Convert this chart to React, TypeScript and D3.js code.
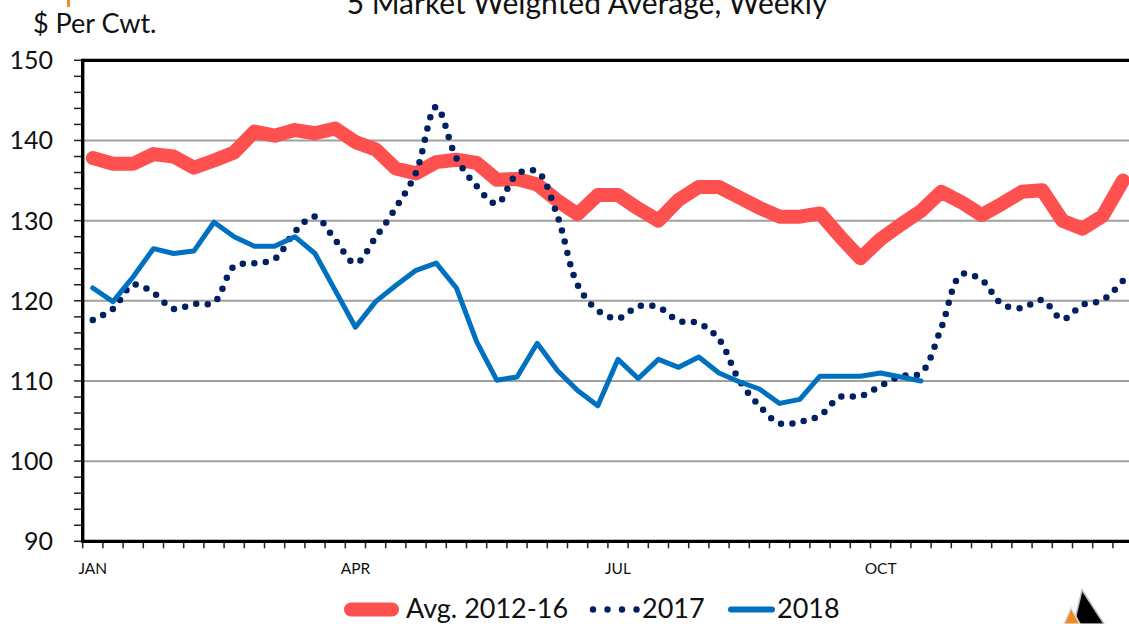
import React from "react";
import * as d3 from "d3";

const W = 1129;
const H = 624;

const title = "5 Market Weighted Average, Weekly";
const yAxisTitle = "$ Per Cwt.";

const weeks: number[] = Array.from({ length: 52 }, (_, i) => i + 1);
const monthLabels = ["JAN", "APR", "JUL", "OCT"];
const monthWeeks = [1, 14, 27, 40];
const yTicks = [90, 100, 110, 120, 130, 140, 150];

const avg2012_16 = [
  137.8, 137.1, 137.1, 138.3, 138.0, 136.6, 137.5, 138.5, 141.1, 140.6,
  141.3, 140.9, 141.5, 139.8, 138.9, 136.5, 135.9, 137.3, 137.6, 137.2,
  135.1, 135.2, 134.5, 132.5, 130.8, 133.2, 133.2, 131.5, 130.0, 132.6,
  134.2, 134.2, 132.9, 131.6, 130.5, 130.5, 130.9, 128.0, 125.3, 127.7,
  129.5, 131.2, 133.6, 132.3, 130.7, 132.1, 133.6, 133.8, 130.0, 129.0,
  130.6, 135.0,
];

const y2017 = [
  117.6, 119.0, 122.0, 121.0, 119.0, 119.6, 119.8, 124.3, 124.7, 125.2,
  128.6, 130.5, 127.6, 124.7, 127.9, 131.6, 136.0, 144.2, 137.8, 134.3,
  132.1, 135.8, 136.1, 130.6, 122.0, 118.8, 117.8, 119.3, 119.2, 117.5,
  117.2, 115.2, 110.1, 106.9, 104.7, 104.9, 105.7, 108.0, 108.1, 109.4,
  110.6, 111.0, 116.6, 123.3, 122.6, 119.6, 119.1, 120.1, 117.7, 119.5,
  120.1, 122.5,
];

const y2018 = [
  121.6, 119.9, 123.0, 126.5, 125.9, 126.2, 129.8, 128.0, 126.8, 126.8,
  128.0, 125.9, 121.3, 116.7, 119.9, 121.9, 123.8, 124.7, 121.6, 114.9,
  110.1, 110.5, 114.7, 111.3, 108.8, 106.9, 112.7, 110.3, 112.7, 111.7,
  113.0, 111.0, 109.9, 109.0, 107.2, 107.7, 110.6, 110.6, 110.6, 111.0,
  110.5, 110.0,
];

const seriesNames = ["Avg. 2012-16", "2017", "2018"];
const colors = ["#FF5050", "#002060", "#0070C0"];

const FONT = "Lato, 'Open Sans', sans-serif";

export default function App() {
  const left = 82.7;
  const bandW = 20.2;
  const right = left + bandW * 52;
  const top = 60.3;
  const bottom = 541.3;

  const x = d3.scaleBand<number>().domain(weeks).range([left, right]).padding(0);
  const y = d3.scaleLinear().domain([90, 150]).range([bottom, top]);
  const cx = (i: number) => (x(weeks[i]) as number) + x.bandwidth() / 2;

  const lineStraight = d3
    .line<number>()
    .x((_, i) => cx(i))
    .y((d) => y(d));
  const lineSmooth = d3
    .line<number>()
    .x((_, i) => cx(i))
    .y((d) => y(d))
    .curve(d3.curveCatmullRom.alpha(0.5));

  const minorTicks = d3.range(90, 150.001, 2);
  const xTickPos = d3.range(0, 53).map((k) => left + k * x.bandwidth());

  const legendY = 609.5;

  return (
    <svg
      width={W}
      height={H}
      style={{ position: "absolute", left: 0, top: 0, display: "block", background: "#fff" }}
      fontFamily={FONT}
    >
      <defs>
        <clipPath id="plotClip">
          <rect x={left} y={0} width={W - left} height={bottom + 2} />
        </clipPath>
      </defs>
      <rect x={0} y={0} width={W} height={H} fill="#fff" />
      {/* small orange mark top-left */}
      <rect x={67} y={0} width={3} height={7} fill="#F08A24" />

      {/* title */}
      <text x={587} y={14} textAnchor="middle" fontSize={30} fill="#111">
        {title}
      </text>
      <text x={33} y={33} fontSize={27} fill="#111">
        {yAxisTitle}
      </text>

      {/* gridlines */}
      {yTicks
        .filter((t) => t !== 90 && t !== 150)
        .map((t) => (
          <line key={"g" + t} x1={left} x2={W} y1={y(t)} y2={y(t)} stroke="#A0A0A0" strokeWidth={2} />
        ))}

      {/* y minor ticks */}
      {minorTicks.map((t) => (
        <line key={"m" + t} x1={74} x2={left} y1={y(t)} y2={y(t)} stroke="#222" strokeWidth={1.5} />
      ))}
      {/* y labels */}
      {yTicks.map((t) => (
        <text key={"yl" + t} x={53} y={y(t)} dy="0.36em" textAnchor="end" fontSize={25} fill="#111">
          {t}
        </text>
      ))}

      {/* x ticks */}
      {xTickPos.map((p, k) => (
        <line key={"xt" + k} x1={p} x2={p} y1={bottom} y2={bottom + 7} stroke="#222" strokeWidth={1.5} />
      ))}
      {monthLabels.map((m, k) => (
        <text
          key={m}
          x={cx(monthWeeks[k] - 1)}
          y={574}
          textAnchor="middle"
          fontSize={15.5}
          fill="#111"
        >
          {m}
        </text>
      ))}

      {/* series */}
      <g clipPath="url(#plotClip)">
        <path
          d={lineStraight(avg2012_16) || ""}
          fill="none"
          stroke={colors[0]}
          strokeWidth={14}
          strokeLinejoin="round"
          strokeLinecap="round"
        />
        <path
          d={lineSmooth(y2017) || ""}
          fill="none"
          stroke={colors[1]}
          strokeWidth={6.5}
          strokeLinecap="round"
          strokeDasharray="0 11.5"
        />
        <path
          d={lineStraight(y2018) || ""}
          fill="none"
          stroke={colors[2]}
          strokeWidth={5}
          strokeLinejoin="round"
          strokeLinecap="round"
        />
      </g>

      {/* plot border */}
      <line x1={left} x2={W} y1={top} y2={top} stroke="#000" strokeWidth={3.2} />
      <line x1={left - 1.6} x2={W} y1={bottom} y2={bottom} stroke="#000" strokeWidth={3.2} />
      <line x1={left} x2={left} y1={top - 1.6} y2={bottom + 1.6} stroke="#000" strokeWidth={3.4} />

      {/* legend */}
      <line x1={351} x2={392} y1={legendY} y2={legendY} stroke={colors[0]} strokeWidth={14} strokeLinecap="round" />
      <text x={406} y={618} fontSize={27} fill="#111">
        {seriesNames[0]}
      </text>
      {[593, 607.5, 622, 636.5].map((p) => (
        <circle key={"ld" + p} cx={p} cy={legendY} r={3.2} fill={colors[1]} />
      ))}
      <text x={642} y={618} fontSize={27} fill="#111">
        {seriesNames[1]}
      </text>
      <line x1={731} x2={772} y1={legendY} y2={legendY} stroke={colors[2]} strokeWidth={6} strokeLinecap="round" />
      <text x={777} y={618} fontSize={27} fill="#111">
        {seriesNames[2]}
      </text>

      {/* logo fragment */}
      <polygon points="1082,590 1104,624 1074,624" fill="#000" stroke="#bbb" strokeWidth={1.5} />
      <polygon points="1071,608 1080,624 1064,624" fill="#F08A24" stroke="#ddd" strokeWidth={1.5} />
    </svg>
  );
}
